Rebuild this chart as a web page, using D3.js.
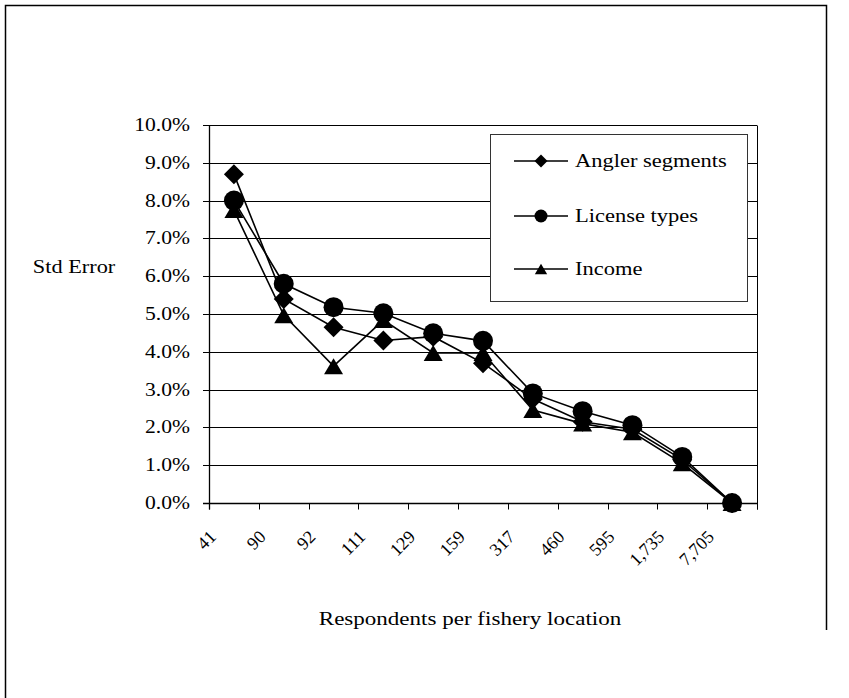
<!DOCTYPE html>
<html>
<head>
<meta charset="utf-8">
<script src="https://cdn.jsdelivr.net/npm/d3@7"></script>
<style>
  html, body { margin: 0; padding: 0; background: #fff; }
  svg { display: block; }
  text { font-family: "Liberation Serif", "Times New Roman", serif; fill: #000; }
</style>
</head>
<body>
<svg id="chart" width="849" height="698"></svg>
<script>
// ---- Data ----
const categories = ["41", "90", "92", "111", "129", "159", "317", "460", "595", "1,735", "7,705"];
const anglerSegments = [8.7, 5.4, 4.65, 4.3, 4.4, 3.7, 2.75, 2.15, 1.95, 1.15, 0.0];
const licenseTypes   = [8.0, 5.8, 5.18, 5.02, 4.49, 4.29, 2.9, 2.43, 2.06, 1.22, 0.0];
const income         = [7.75, 4.97, 3.62, 4.84, 3.97, 3.97, 2.46, 2.1, 1.87, 1.05, 0.0];
const seriesNames = ["Angler segments", "License types", "Income"];
const yTickValues = [0, 1, 2, 3, 4, 5, 6, 7, 8, 9, 10];
const yTitle = "Std Error";
const xTitle = "Respondents per fishery location";

// ---- Layout ----
const svg = d3.select("#chart");
const plot = { left: 209, right: 757, top: 125, bottom: 503 };

const x = d3.scaleBand().domain(categories).range([plot.left, plot.right]).padding(0);
const y = d3.scaleLinear().domain([0, 10]).range([plot.bottom, plot.top]);
const cx = c => x(c) + x.bandwidth() / 2;
const crisp = v => Math.round(v) + 0.5;

function stretchedText(g, px, py, str, anchor, size, sx) {
  return g.append("text")
    .attr("transform", `translate(${px},${py}) scale(${sx},1)`)
    .attr("text-anchor", anchor)
    .style("font-size", size + "px")
    .text(str);
}

// outer frame (left, top, right)
svg.append("path")
  .attr("d", "M5.5,698 V5.5 H826.5 V630")
  .attr("fill", "none").attr("stroke", "#000").attr("stroke-width", 1.5);

// gridlines
const grid = svg.append("g");
yTickValues.forEach(v => {
  grid.append("line")
    .attr("x1", plot.left).attr("x2", plot.right)
    .attr("y1", crisp(y(v))).attr("y2", crisp(y(v)))
    .attr("stroke", "#000").attr("stroke-width", 1);
});

// y axis line + ticks
svg.append("line")
  .attr("x1", crisp(plot.left)).attr("x2", crisp(plot.left))
  .attr("y1", crisp(y(10))).attr("y2", crisp(y(0)) + 6)
  .attr("stroke", "#000").attr("stroke-width", 1.3);
svg.append("line")
  .attr("x1", crisp(plot.right)).attr("x2", crisp(plot.right))
  .attr("y1", crisp(y(10))).attr("y2", crisp(y(0)) + 6)
  .attr("stroke", "#000").attr("stroke-width", 1);
yTickValues.forEach(v => {
  svg.append("line")
    .attr("x1", plot.left - 6).attr("x2", plot.left)
    .attr("y1", crisp(y(v))).attr("y2", crisp(y(v)))
    .attr("stroke", "#000").attr("stroke-width", 1);
  stretchedText(svg, 190, y(v) + 6, d3.format(".1f")(v) + "%", "end", 18, 1.2);
});
// x axis line
svg.append("line")
  .attr("x1", plot.left - 6).attr("x2", plot.right)
  .attr("y1", crisp(y(0))).attr("y2", crisp(y(0)))
  .attr("stroke", "#000").attr("stroke-width", 1.3);

// x ticks at category boundaries
const boundaries = categories.map(c => x(c)).concat([plot.right]);
boundaries.forEach(bx => {
  svg.append("line")
    .attr("x1", crisp(bx)).attr("x2", crisp(bx))
    .attr("y1", crisp(y(0))).attr("y2", crisp(y(0)) + 6)
    .attr("stroke", "#000").attr("stroke-width", 1);
});
// x tick labels (rotated), anchored at the left boundary of each band
categories.forEach(c => {
  svg.append("text")
    .attr("transform", `translate(${x(c) + 8},${538}) rotate(-45)`)
    .attr("text-anchor", "end")
    .style("font-size", "18px")
    .text(c);
});

// axis titles
stretchedText(svg, 74, 273, yTitle, "middle", 18, 1.24);
stretchedText(svg, 470, 625, xTitle, "middle", 18, 1.28);

// markers
function marker(g, type, px, py, s) {
  if (type === "circle") {
    g.append("circle").attr("cx", px).attr("cy", py).attr("r", s).attr("fill", "#000");
  } else if (type === "diamond") {
    g.append("path")
      .attr("d", `M${px},${py - s} L${px + s},${py} L${px},${py + s} L${px - s},${py} Z`)
      .attr("fill", "#000");
  } else {
    const w = s * 0.95, h = s * 0.8;
    g.append("path")
      .attr("d", `M${px},${py - h} L${px + w},${py + h} L${px - w},${py + h} Z`)
      .attr("fill", "#000");
  }
}

const series = [
  { name: seriesNames[0], values: anglerSegments, type: "diamond", size: 10 },
  { name: seriesNames[1], values: licenseTypes, type: "circle", size: 10 },
  { name: seriesNames[2], values: income, type: "triangle", size: 10 }
];

const line = d3.line().x((d, i) => cx(categories[i])).y(d => y(d));
series.forEach(s => {
  const g = svg.append("g");
  g.append("path").datum(s.values)
    .attr("d", line)
    .attr("fill", "none").attr("stroke", "#000").attr("stroke-width", 1.6);
  s.values.forEach((v, i) => marker(g, s.type, cx(categories[i]), y(v), s.size));
});

// legend
const lg = svg.append("g");
lg.append("rect")
  .attr("x", 490.5).attr("y", 134.5).attr("width", 257).attr("height", 167)
  .attr("fill", "#fff").attr("stroke", "#333").attr("stroke-width", 1);
const legendY = [161, 216, 269];
series.forEach((s, i) => {
  const ly = legendY[i];
  lg.append("line").attr("x1", 514).attr("x2", 568).attr("y1", ly).attr("y2", ly)
    .attr("stroke", "#000").attr("stroke-width", 1.6);
  marker(lg, s.type, 541, ly, 6.5);
  stretchedText(lg, 575, ly + 6, s.name, "start", 18, 1.25);
});
</script>
</body>
</html>
